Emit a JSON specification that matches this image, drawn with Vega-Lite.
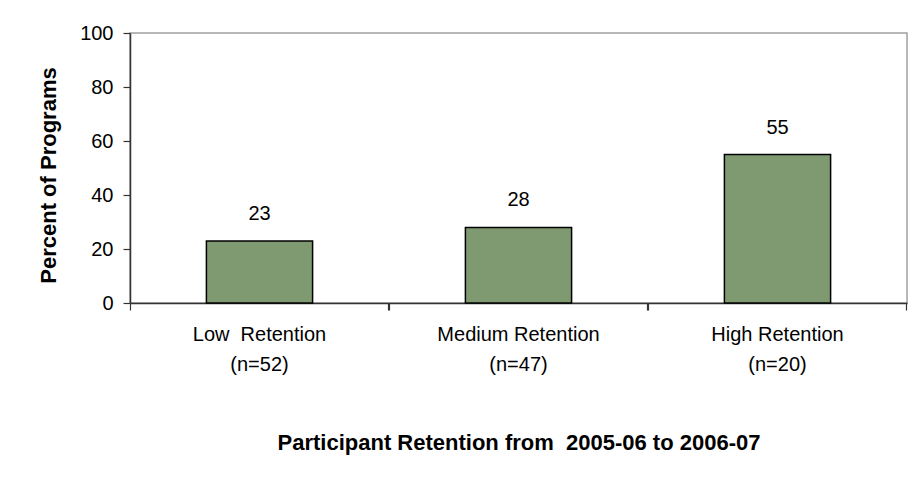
{
  "$schema": "https://vega.github.io/schema/vega-lite/v6.json",
  "autosize": "none",
  "padding": {"left": 130, "top": 33, "right": 8, "bottom": 190},
  "width": 777,
  "height": 270,
  "background": "white",
  "config": {
    "font": "Liberation Sans",
    "view": {"stroke": "#a0a0a0", "strokeWidth": 1.5},
    "axis": {"grid": false, "domainColor": "#333333", "tickColor": "#333333", "domainWidth": 1.5, "tickWidth": 1.2, "labelColor": "#000000", "titleColor": "#000000"}
  },
  "data": {
    "values": [
      {"group": "Low\u00a0 Retention|(n=52)", "percent": 23},
      {"group": "Medium Retention|(n=47)", "percent": 28},
      {"group": "High Retention|(n=20)", "percent": 55}
    ]
  },
  "encoding": {
    "y": {
      "field": "percent",
      "type": "quantitative",
      "scale": {"domain": [0, 100], "nice": false},
      "axis": {
        "values": [0, 20, 40, 60, 80, 100],
        "title": "Percent of Programs",
        "titleFontSize": 22,
        "titleFontWeight": "bold",
        "titleX": -75,
        "titleY": 142,
        "titleAngle": -90,
        "titleBaseline": "alphabetic",
        "titleAlign": "center",
        "labelFontSize": 20,
        "labelPadding": 10,
        "tickSize": 7
      }
    }
  },
  "layer": [
    {
      "mark": {"type": "bar", "color": "#7f9a70", "stroke": "#000000", "strokeWidth": 1.5},
      "encoding": {
        "x": {
          "field": "group",
          "type": "nominal",
          "sort": null,
          "scale": {"paddingInner": 0.59, "paddingOuter": 0.295},
          "axis": {
            "orient": "bottom",
            "ticks": false,
            "domain": true,
            "labelAngle": 0,
            "labelExpr": "split(datum.value, '|')",
            "labelFontSize": 20,
            "labelPadding": 21,
            "labelBaseline": "top",
            "labelLineHeight": 30,
            "title": "Participant Retention from\u00a0 2005-06 to 2006-07",
            "titleFontSize": 22,
            "titleFontWeight": "bold",
            "titleBaseline": "alphabetic",
            "titleY": 146
          }
        }
      }
    },
    {
      "mark": {"type": "text", "fontSize": 20, "baseline": "alphabetic", "dy": -21, "color": "#000000"},
      "encoding": {
        "x": {
          "field": "group",
          "type": "nominal",
          "sort": null,
          "axis": {
            "orient": "bottom",
            "labels": false,
            "domain": false,
            "title": null,
            "ticks": true,
            "tickSize": 7,
            "bandPosition": -0.7195
          }
        },
        "text": {"field": "percent", "type": "quantitative"}
      }
    },
    {
      "mark": {"type": "bar", "opacity": 0},
      "encoding": {
        "x": {
          "field": "group",
          "type": "nominal",
          "sort": null,
          "axis": {
            "orient": "bottom",
            "labels": false,
            "domain": false,
            "title": null,
            "ticks": true,
            "tickSize": 7,
            "bandPosition": 1.7195
          }
        }
      }
    }
  ],
  "resolve": {"axis": {"x": "independent"}}
}
